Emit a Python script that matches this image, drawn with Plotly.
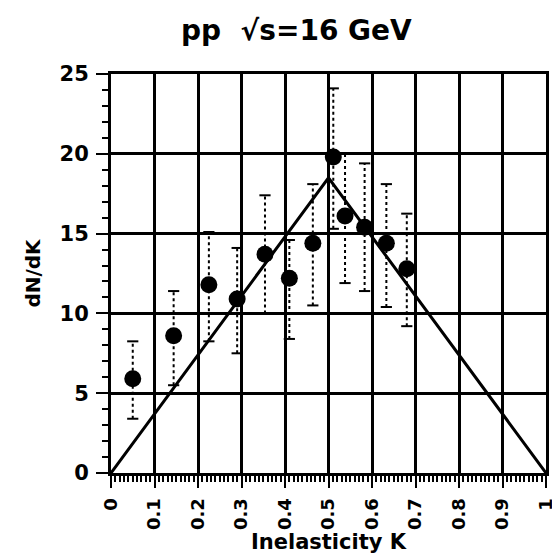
import plotly.graph_objects as go

# Data
K = [0.05, 0.144, 0.225, 0.29, 0.354, 0.41, 0.464, 0.511, 0.538, 0.583, 0.633, 0.68]
dNdK = [5.9, 8.6, 11.8, 10.9, 13.7, 12.2, 14.4, 19.8, 16.1, 15.4, 14.4, 12.8]
err_hi = [8.25, 11.4, 15.1, 14.1, 17.4, 14.6, 18.1, 24.1, 20.0, 19.4, 18.1, 16.25]
err_lo = [3.4, 5.5, 8.25, 7.5, 10.0, 8.4, 10.5, 15.3, 11.9, 11.4, 10.4, 9.2]

tri_K = [0.0, 0.5, 1.0]
tri_y = [0.0, 18.5, 0.0]

xtick_vals = [0, 0.1, 0.2, 0.3, 0.4, 0.5, 0.6, 0.7, 0.8, 0.9, 1.0]
xtick_text = ["0", "0.1", "0.2", "0.3", "0.4", "0.5", "0.6", "0.7", "0.8", "0.9", "1"]
ytick_vals = [0, 5, 10, 15, 20, 25]

FONT = "DejaVu Sans"

fig = go.Figure()

# dotted error bars
ex, ey = [], []
for k, lo, hi in zip(K, err_lo, err_hi):
    ex += [k, k, None]
    ey += [lo, hi, None]
fig.add_trace(go.Scatter(x=ex, y=ey, mode="lines",
                         line=dict(color="black", width=2, dash="dot"),
                         showlegend=False, hoverinfo="skip"))
# caps
fig.add_trace(go.Scatter(x=K + K, y=err_hi + err_lo, mode="markers",
                         marker=dict(symbol="line-ew", size=8,
                                     line=dict(color="black", width=2)),
                         showlegend=False, hoverinfo="skip"))

# triangle model line
fig.add_trace(go.Scatter(x=tri_K, y=tri_y, mode="lines",
                         line=dict(color="black", width=3),
                         showlegend=False))

# data points
fig.add_trace(go.Scatter(x=K, y=dNdK, mode="markers",
                         marker=dict(symbol="circle", size=17, color="black"),
                         showlegend=False))

fig.update_layout(
    width=560, height=560,
    paper_bgcolor="white", plot_bgcolor="white",
    margin=dict(l=103, r=13, t=66, b=95),
    font=dict(family=FONT, color="black", size=17, weight="bold"),
    title=dict(text="pp  √s=16 GeV", x=0.515, xanchor="center",
               y=1 - 22 / 560, yanchor="middle", yref="container",
               font=dict(size=28, family=FONT, weight="bold")),
    showlegend=False,
)

fig.update_xaxes(
    range=[0, 1], tickvals=xtick_vals, ticktext=xtick_text, tickangle=-90,
    showgrid=True, gridcolor="black", gridwidth=3,
    showline=True, linecolor="black", linewidth=3, mirror=True,
    ticks="outside", ticklen=12, tickwidth=2, tickcolor="black",
    ticklabelstandoff=3,
    minor=dict(dtick=0.01, tick0=0, ticks="outside", ticklen=6, tickwidth=1.5,
               tickcolor="black", showgrid=False),
    zeroline=False,
    tickfont=dict(size=18, family=FONT, weight="bold"),
    title=dict(text="Inelasticity K", standoff=0,
               font=dict(size=21, family=FONT, weight="bold")),
)

fig.update_yaxes(
    range=[0, 25], tickvals=ytick_vals,
    showgrid=True, gridcolor="black", gridwidth=3,
    showline=True, linecolor="black", linewidth=3, mirror=True,
    ticks="outside", ticklen=12, tickwidth=2, tickcolor="black",
    ticklabelstandoff=3,
    minor=dict(dtick=1, tick0=0, ticks="outside", ticklen=6, tickwidth=1.5,
               tickcolor="black", showgrid=False),
    zeroline=False,
    tickfont=dict(size=21, family=FONT, weight="bold"),
    title=dict(text="dN/dK", standoff=14,
               font=dict(size=20, family=FONT, weight="bold")),
)

fig.write_html("out.html")
